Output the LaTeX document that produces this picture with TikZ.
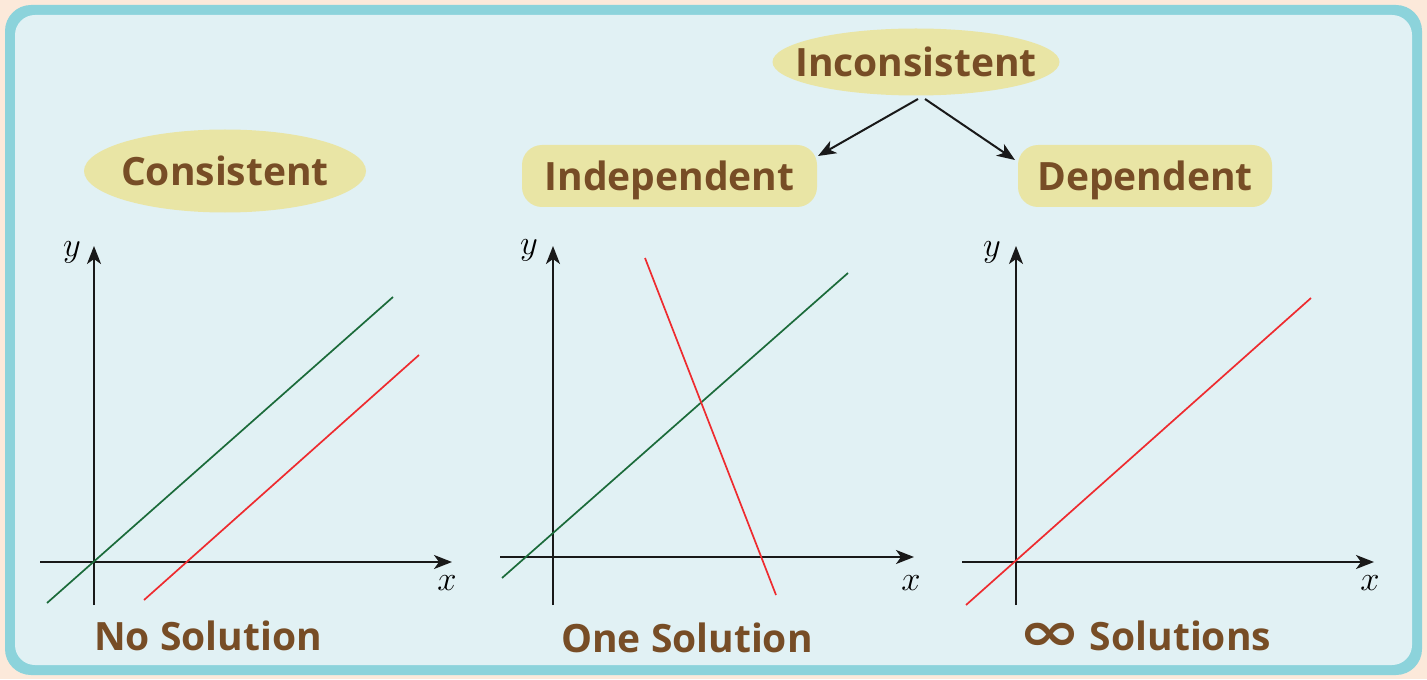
\documentclass[tikz,border=0pt]{standalone}
\usepackage{fontspec}
\setmainfont{Open Sans}
\newfontfamily\symfont{DejaVu Sans}
\usetikzlibrary{arrows.meta,shapes.geometric}
\definecolor{peach}{HTML}{FCE9DA}
\definecolor{frame}{HTML}{8CD3DB}
\definecolor{panel}{HTML}{E1F1F4}
\definecolor{brownt}{HTML}{774D26}
\definecolor{pill}{HTML}{E9E5A5}
\definecolor{gline}{HTML}{1B6B3A}
\definecolor{rline}{HTML}{EE2B2F}
\begin{document}
\begin{tikzpicture}[x=0.5pt,y=-0.5pt,
  lbl/.style={font=\fontsize{19.5}{21}\selectfont\bfseries, text=brownt, text depth=0pt},
  pillbox/.style={rounded corners=10pt, fill=pill, lbl, inner sep=0pt},
  axis/.style={line width=1pt, draw=black!90, -{Stealth[length=9pt,width=7pt,inset=2.5pt]}},
  flow/.style={line width=1pt, draw=black!90, -{Stealth[length=9pt,width=7pt,inset=2.5pt]}},
  gl/.style={line width=0.85pt, draw=gline},
  rl/.style={line width=0.85pt, draw=rline},
  axl/.style={font=\fontsize{19}{20}\selectfont, inner sep=0pt}]
\useasboundingbox (0,0) rectangle (1427,679);
\fill[peach] (0,0) rectangle (1427,679);
\fill[frame, rounded corners=13pt] (5,5) rectangle (1422,675);
\fill[panel, rounded corners=10pt] (15,15) rectangle (1412,665);

% top labels
\coordinate (consc) at (225,171);
\coordinate (inconsc) at (916,62);
\fill[pill] (consc) ellipse [x radius=70.5pt, y radius=20.75pt];
\fill[pill] (inconsc) ellipse [x radius=71.75pt, y radius=16.75pt];
\node[lbl] (cons) at (consc) {Consistent};
\node[lbl] (incons) at (inconsc) {Inconsistent};
\node[pillbox, minimum width=147.5pt, minimum height=31pt] (indep) at (669.5,176) {Independent};
\node[pillbox, minimum width=127pt, minimum height=31pt] (dep) at (1145,176) {Dependent};
\coordinate (s1) at (918,99);
\coordinate (s2) at (925,99);
\coordinate (e1) at (818,156);
\coordinate (e2) at (1015,160);
\draw[flow] (s1) -- (e1);
\draw[flow] (s2) -- (e2);

% graph 1
\coordinate (a1x0) at (40,562); \coordinate (a1x1) at (452,562);
\coordinate (a1y0) at (94,605); \coordinate (a1y1) at (94,246);
\draw[axis] (a1x0) -- (a1x1);
\draw[axis] (a1y0) -- (a1y1);
\node[axl] (y1) at (72,252) {$y$};
\node[axl] (x1) at (447,583) {$x$};
\coordinate (g1a) at (47,603); \coordinate (g1b) at (393,297);
\coordinate (r1a) at (144,600); \coordinate (r1b) at (419,355);
\draw[gl] (g1a) -- (g1b);
\draw[rl] (r1a) -- (r1b);
\node[lbl] (t1) at (208,636) {No Solution};

% graph 2
\coordinate (a2x0) at (500,557); \coordinate (a2x1) at (914,557);
\coordinate (a2y0) at (553,605); \coordinate (a2y1) at (553,246);
\draw[axis] (a2x0) -- (a2x1);
\draw[axis] (a2y0) -- (a2y1);
\node[axl] (y2) at (529,250) {$y$};
\node[axl] (x2) at (911,583) {$x$};
\coordinate (g2a) at (502,578); \coordinate (g2b) at (848,273);
\coordinate (r2a) at (645,258); \coordinate (r2b) at (776,595);
\draw[gl] (g2a) -- (g2b);
\draw[rl] (r2a) -- (r2b);
\node[lbl] (t2) at (687,638) {One Solution};

% graph 3
\coordinate (a3x0) at (962,562); \coordinate (a3x1) at (1374,562);
\coordinate (a3y0) at (1016,605); \coordinate (a3y1) at (1016,246);
\draw[axis] (a3x0) -- (a3x1);
\draw[axis] (a3y0) -- (a3y1);
\node[axl] (y3) at (992,252) {$y$};
\node[axl] (x3) at (1370,583) {$x$};
\coordinate (r3a) at (966,605); \coordinate (r3b) at (1311,298);
\draw[rl] (r3a) -- (r3b);
\node[lbl] (t3) at (1145,636) {\raisebox{0pt}{\scalebox{1.4}[1]{\symfont\fontsize{27}{27}\selectfont\bfseries ∞}}\hspace{4pt}Solutions};
\end{tikzpicture}
\end{document}
